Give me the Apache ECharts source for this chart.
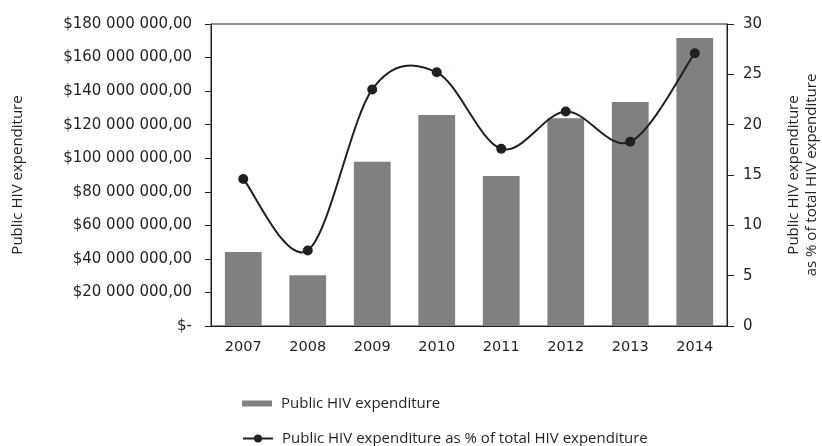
<!DOCTYPE html>
<html>
<head>
<meta charset="UTF-8">
<title>Public HIV expenditure</title>
<script src="https://cdn.jsdelivr.net/npm/echarts@6/dist/echarts.min.js"></script>
<style>
  html, body { margin: 0; padding: 0; background: #fff; }
  #main { width: 822px; height: 446px; }
</style>
</head>
<body>
<div id="main"></div>
<script type="text/javascript">
// years on the x axis
var years = ['2007', '2008', '2009', '2010', '2011', '2012', '2013', '2014'];
// public HIV expenditure, US$
var expenditure = [44100000, 30200000, 97900000, 125800000, 89400000, 123800000, 133500000, 171700000];
// public HIV expenditure as % of total HIV expenditure
var sharePct = [14.6, 7.5, 23.5, 25.2, 17.6, 21.3, 18.3, 27.1];

var barName = 'Public HIV expenditure';
var lineName = 'Public HIV expenditure as % of total HIV expenditure';
var font = 'Open Sans';
var numFont = 'DejaVu Sans';
var ink = '#231f20';

// $120 000 000,00 style labels, zero shown as $-
function money(v) {
    if (v === 0) return '$-';
    var s = String(Math.round(v));
    var out = '';
    while (s.length > 3) {
        out = ' ' + s.slice(-3) + out;
        s = s.slice(0, -3);
    }
    return '$' + s + out + ',00';
}

// spreadsheet style smoothed line: catmull-rom through the points, in pixels
function renderCurve(params, api) {
    if (params.dataIndex !== 0) return null;
    var pts = [];
    for (var i = 0; i < sharePct.length; i++) {
        pts.push(api.coord([i, sharePct[i]]));
    }
    var kids = [];
    for (var i = 0; i < pts.length - 1; i++) {
        var p0 = pts[i === 0 ? 0 : i - 1];
        var p1 = pts[i];
        var p2 = pts[i + 1];
        var p3 = pts[i + 2 < pts.length ? i + 2 : i + 1];
        kids.push({
            type: 'bezierCurve',
            shape: {
                x1: p1[0], y1: p1[1],
                x2: p2[0], y2: p2[1],
                cpx1: p1[0] + (p2[0] - p0[0]) / 6,
                cpy1: p1[1] + (p2[1] - p0[1]) / 6,
                cpx2: p2[0] - (p3[0] - p1[0]) / 6,
                cpy2: p2[1] - (p3[1] - p1[1]) / 6
            },
            style: { stroke: ink, lineWidth: 2, fill: null }
        });
    }
    return { type: 'group', children: kids };
}

var myChart = echarts.init(document.getElementById('main'));

var option = {
    animation: false,
    textStyle: { fontFamily: font, color: ink },
    grid: {
        left: 211,
        right: 95,
        top: 24,
        bottom: 120,
        outerBoundsMode: 'none',
        show: true,
        borderColor: ink,
        borderWidth: 1
    },
    legend: [{
        data: [barName],
        orient: 'vertical',
        left: 237,
        top: 391,
        icon: 'rect',
        itemWidth: 30,
        itemHeight: 6,
        textStyle: { fontFamily: font, fontSize: 15, color: ink, padding: [0, 0, 0, 4] }
    }, {
        data: [{
            name: lineName,
            lineStyle: { color: ink, width: 2, opacity: 1 }
        }],
        orient: 'vertical',
        left: 237,
        top: 426,
        itemWidth: 30,
        itemHeight: 10,
        textStyle: { fontFamily: font, fontSize: 15, color: ink, padding: [0, 0, 0, 4] }
    }],
    xAxis: {
        type: 'category',
        data: years,
        axisLine: { lineStyle: { color: ink, width: 1 } },
        axisTick: { show: false },
        axisLabel: { color: ink, fontSize: 14.5, fontFamily: numFont, margin: 14 }
    },
    yAxis: [{
        type: 'value',
        min: 0,
        max: 180000000,
        interval: 20000000,
        name: 'Public HIV expenditure',
        nameLocation: 'middle',
        nameGap: 186,
        nameTextStyle: { fontSize: 15, color: ink, fontFamily: font },
        axisLine: { show: true, lineStyle: { color: ink } },
        axisTick: { show: true, length: 6, lineStyle: { color: ink } },
        splitLine: { show: false },
        axisLabel: { color: ink, fontSize: 15, fontFamily: numFont, margin: 19, formatter: money }
    }, {
        type: 'value',
        min: 0,
        max: 30,
        interval: 5,
        position: 'right',
        name: 'Public HIV expenditure\nas % of total HIV expenditure',
        nameLocation: 'middle',
        nameGap: 58,
        nameTextStyle: { fontSize: 15, color: ink, fontFamily: font, lineHeight: 18 },
        axisLine: { show: true, lineStyle: { color: ink } },
        axisTick: { show: true, length: 7, lineStyle: { color: ink } },
        splitLine: { show: false },
        axisLabel: { color: ink, fontSize: 15, fontFamily: numFont, margin: 16 }
    }],
    series: [{
        name: barName,
        type: 'bar',
        data: expenditure,
        barWidth: '57%',
        itemStyle: { color: '#808080' }
    }, {
        type: 'custom',
        yAxisIndex: 1,
        data: sharePct.map(function (v, i) { return [i, v]; }),
        renderItem: renderCurve,
        silent: true,
        z: 3
    }, {
        name: lineName,
        type: 'line',
        yAxisIndex: 1,
        data: sharePct,
        symbol: 'circle',
        symbolSize: 10,
        lineStyle: { color: ink, width: 2, opacity: 0 },
        itemStyle: { color: ink },
        z: 4
    }]
};

myChart.setOption(option);
</script>
</body>
</html>
